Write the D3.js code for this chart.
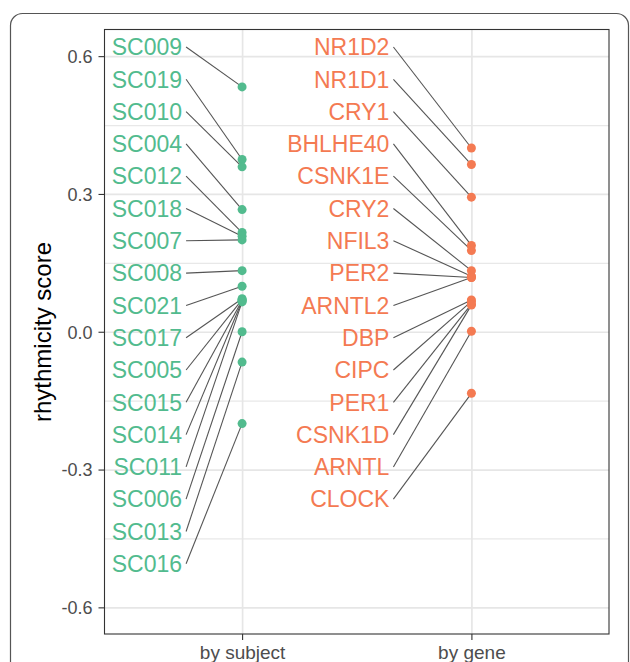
<!DOCTYPE html>
<html>
  <head>
    <meta charset="utf-8">
    <title>rhythmicity score</title>
    <script src="https://cdn.jsdelivr.net/npm/d3@7"></script>
    <style>
      body { margin: 0; background: #fff; }
      svg text { font-family: "Liberation Sans", Arial, Helvetica, sans-serif; }
    </style>
  </head>
  <body>
    <div id="chart"></div>
    <script type="text/javascript">
    // data
    var groups = ["by subject", "by gene"];

    var subjects = ["SC009", "SC019", "SC010", "SC004", "SC012", "SC018", "SC007", "SC008", "SC021",
                    "SC017", "SC005", "SC015", "SC014", "SC011", "SC006", "SC013", "SC016"];
    var subjectScores = [0.533, 0.375, 0.359, 0.266, 0.216, 0.208, 0.200, 0.133, 0.099,
                         0.072, 0.070, 0.068, 0.067, 0.065, 0.000, -0.066, -0.200];

    var genes = ["NR1D2", "NR1D1", "CRY1", "BHLHE40", "CSNK1E", "CRY2", "NFIL3", "PER2", "ARNTL2",
                 "DBP", "CIPC", "PER1", "CSNK1D", "ARNTL", "CLOCK"];
    var geneScores = [0.400, 0.364, 0.293, 0.188, 0.177, 0.133, 0.121, 0.118, 0.118,
                      0.069, 0.066, 0.060, 0.058, 0.001, -0.134];

    var yTicks = [-0.6, -0.3, 0.0, 0.3, 0.6];
    var yMinor = [-0.45, -0.15, 0.15, 0.45];

    var colors = {"by subject": "#52bb8e", "by gene": "#f47a52"};

    var W = 630, H = 662;
    var panel = {left: 104.5, top: 29.5, right: 609, bottom: 634};

    var svg = d3.select("#chart").append("svg")
        .attr("width", W)
        .attr("height", H);

    // outer rounded frame
    svg.append("rect")
        .attr("x", 10.5).attr("y", 13.5)
        .attr("width", 618).attr("height", 700)
        .attr("rx", 12)
        .attr("fill", "none")
        .attr("stroke", "#555")
        .attr("stroke-width", 1.2);

    var x = d3.scalePoint().domain(groups).range([panel.left, panel.right]).padding(0.6);
    var y = d3.scaleLinear().domain([-0.658, 0.658]).range([panel.bottom, panel.top]);
    var pw = panel.right - panel.left, ph = panel.bottom - panel.top;

    // minor gridlines
    svg.append("g")
        .attr("class", "grid-minor")
        .attr("transform", "translate(" + panel.left + ",0)")
        .call(d3.axisLeft(y).tickValues(yMinor).tickSize(-pw).tickFormat(""))
        .call(function(g) { g.select(".domain").remove(); })
        .selectAll("line").attr("stroke", "#e8e8e8").attr("stroke-width", 1.2);

    // major gridlines
    svg.append("g")
        .attr("transform", "translate(" + panel.left + ",0)")
        .call(d3.axisLeft(y).tickValues(yTicks).tickSize(-pw).tickFormat(""))
        .call(function(g) { g.select(".domain").remove(); })
        .selectAll("line").attr("stroke", "#e6e6e6").attr("stroke-width", 1.7);

    svg.append("g")
        .attr("transform", "translate(0," + panel.bottom + ")")
        .call(d3.axisBottom(x).tickSize(-ph).tickFormat(""))
        .call(function(g) { g.select(".domain").remove(); })
        .selectAll("line").attr("stroke", "#e6e6e6").attr("stroke-width", 1.7);

    // panel border
    svg.append("rect")
        .attr("x", panel.left).attr("y", panel.top)
        .attr("width", pw).attr("height", ph)
        .attr("fill", "none")
        .attr("stroke", "#333")
        .attr("stroke-width", 1.1);

    // y axis
    var yAxis = svg.append("g")
        .attr("transform", "translate(" + panel.left + ",0)")
        .call(d3.axisLeft(y).tickValues(yTicks).tickSize(6).tickPadding(6)
            .tickFormat(function(d) { return d.toFixed(1); }));
    yAxis.select(".domain").remove();
    yAxis.selectAll("line").attr("stroke", "#333").attr("stroke-width", 1.1);
    yAxis.selectAll("text").attr("fill", "#4d4d4d").style("font-size", "18px")
        .attr("dy", "0.35em");

    // x axis
    var xAxis = svg.append("g")
        .attr("transform", "translate(0," + panel.bottom + ")")
        .call(d3.axisBottom(x).tickSize(6).tickPadding(6));
    xAxis.select(".domain").remove();
    xAxis.selectAll("line").attr("stroke", "#333").attr("stroke-width", 1.1);
    xAxis.selectAll("text").attr("fill", "#4d4d4d").style("font-size", "19px");

    // axis title
    svg.append("text")
        .attr("transform", "rotate(-90)")
        .attr("x", -332)
        .attr("y", 51)
        .style("text-anchor", "middle")
        .style("font-size", "24px")
        .attr("fill", "#000")
        .text("rhythmicity score");

    // labelled points: labels stacked down from the top, joined to their points
    var labelTop = 47, labelStep = 32.3;
    var labelDx = {"by subject": -60, "by gene": -82};

    function drawGroup(group, names, scores) {
      var rows = names.map(function(n, i) { return {name: n, score: scores[i], i: i}; });
      var g = svg.append("g").attr("class", "group");
      var px = x(group);
      var lx = px + labelDx[group];

      g.selectAll(".seg")
        .data(rows)
        .enter()
        .append("line")
        .attr("class", "seg")
        .attr("x1", lx + 4)
        .attr("y1", function(d) { return labelTop + d.i * labelStep; })
        .attr("x2", px)
        .attr("y2", function(d) { return y(d.score); })
        .attr("stroke", "#555")
        .attr("stroke-width", 1.1);

      g.selectAll(".lab")
        .data(rows)
        .enter()
        .append("text")
        .attr("class", "lab")
        .attr("x", lx)
        .attr("y", function(d) { return labelTop + d.i * labelStep + 8.2; })
        .style("text-anchor", "end")
        .style("font-size", "23px")
        .attr("fill", colors[group])
        .text(function(d) { return d.name; });

      g.selectAll("circle")
        .data(rows)
        .enter()
        .append("circle")
        .attr("cx", px)
        .attr("cy", function(d) { return y(d.score); })
        .attr("r", 4.5)
        .attr("fill", colors[group]);
    }

    drawGroup("by subject", subjects, subjectScores);
    drawGroup("by gene", genes, geneScores);
    </script>
  </body>
</html>
